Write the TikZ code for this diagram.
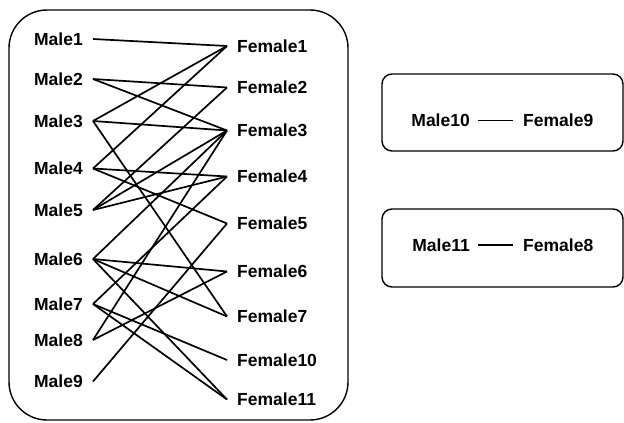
\documentclass[tikz,border=0pt]{standalone}
\usepackage{fontspec}
\setmainfont{Liberation Sans}
\begin{document}
\begin{tikzpicture}[x=1pt,y=-1pt,
  lbl/.style={font=\bfseries\fontsize{17.5}{20}\selectfont, inner ysep=0pt, text height=12.5pt, text depth=0pt},
  ml/.style={lbl, anchor=east, inner xsep=10pt},
  fl/.style={lbl, anchor=west, inner xsep=10pt},
  edge/.style={line width=1.7pt},
  grp/.style={draw, line width=1.4pt}]
\useasboundingbox (0,0) rectangle (624,423);
\draw[grp, rounded corners=38pt] (9,10) rectangle (348,420);
\draw[grp, rounded corners=10pt] (382,74) rectangle (623,151);
\draw[grp, rounded corners=10pt] (382,209) rectangle (623,287);

\node[ml] (m1) at (93,39) {Male1};
\node[ml] (m2) at (93,79) {Male2};
\node[ml] (m3) at (93,121) {Male3};
\node[ml] (m4) at (93,168.5) {Male4};
\node[ml] (m5) at (93,210) {Male5};
\node[ml] (m6) at (93,259) {Male6};
\node[ml] (m7) at (93,304) {Male7};
\node[ml] (m8) at (93,340) {Male8};
\node[ml] (m9) at (93,381.5) {Male9};

\node[fl] (f1) at (227,46) {Female1};
\node[fl] (f2) at (227,87.5) {Female2};
\node[fl] (f3) at (227,130.5) {Female3};
\node[fl] (f4) at (227,176.5) {Female4};
\node[fl] (f5) at (227,223.5) {Female5};
\node[fl] (f6) at (227,271.5) {Female6};
\node[fl] (f7) at (227,316.5) {Female7};
\node[fl] (f10) at (227,360) {Female10};
\node[fl] (f11) at (227,399.5) {Female11};

\node[lbl, anchor=east, inner xsep=8pt] (m10) at (478,120.5) {Male10};
\node[fl] (f9) at (513,120.5) {Female9};
\node[lbl, anchor=east, inner xsep=8pt] (m11) at (478,245) {Male11};
\node[fl] (f8) at (513,245) {Female8};

\foreach \a/\b in {m1/f1, m2/f2, m2/f3, m3/f1, m3/f3, m3/f7, m4/f1, m4/f4, m4/f5,
  m5/f2, m5/f3, m5/f4, m6/f3, m6/f6, m6/f7, m6/f11, m7/f4, m7/f10, m7/f11,
  m8/f3, m8/f6, m9/f5, m10/f9, m11/f8}
  \draw[edge] (\a.east) -- (\b.west);
\end{tikzpicture}
\end{document}
